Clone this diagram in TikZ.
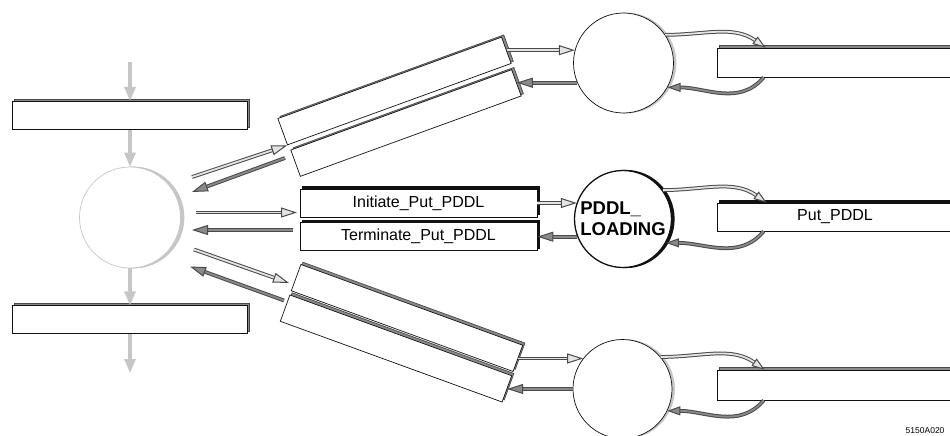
\documentclass[tikz,border=0pt]{standalone}
\usepackage{fontspec}
\setsansfont{Liberation Sans}
\usetikzlibrary{arrows.meta,positioning,shadows}
\usepackage{xcolor}
\definecolor{ink}{HTML}{111111}
\definecolor{edge}{HTML}{4A4A4A}
\definecolor{dim}{HTML}{8A8A8A}
\definecolor{mist}{HTML}{C6C6C6}
\definecolor{pale}{HTML}{E4E4E4}
\tikzset{
  box/.style={draw=ink,fill=white,line width=0.7pt,inner sep=0pt,minimum height=28pt},
  store/.style={box,copy shadow={shadow xshift=2.2pt,shadow yshift=2.2pt,fill=dim,draw=edge}},
  heavystore/.style={box,copy shadow={shadow xshift=2.5pt,shadow yshift=2.5pt,fill=ink,draw=ink}},
  proc/.style={circle,draw=ink,fill=white,line width=0.7pt,inner sep=0pt,minimum size=100pt,copy shadow={shadow xshift=2.5pt,shadow yshift=0pt,fill=mist,draw=mist}},
  ghostproc/.style={proc,draw=mist,copy shadow={shadow xshift=3.5pt,shadow yshift=0pt,fill=mist,draw=mist}},
  heavyproc/.style={circle,draw=ink,fill=white,line width=1.3pt,inner sep=0pt,minimum size=97pt,copy shadow={shadow xshift=2.5pt,shadow yshift=0pt,fill=ink,draw=ink}},
  feed/.style={draw=mist,line width=3.2pt,-{Triangle[length=14pt,width=11pt]}},
  outflow/.style={draw=edge,double=pale,double distance=1.8pt,line width=1pt,-{Triangle[length=16pt,width=10pt,fill=pale]}},
  inflow/.style={draw=edge,double=dim,double distance=1.8pt,line width=1pt,-{Triangle[length=16pt,width=10pt,fill=dim]}},
  loopout/.style={outflow,-{Triangle[length=13pt,width=9pt,fill=pale]}},
  loopin/.style={inflow,-{Triangle[length=13pt,width=9pt,fill=dim]}},
  every node/.style={font=\sffamily\fontsize{16}{19}\selectfont}
}
\begin{document}
\begin{tikzpicture}[x=1pt,y=1pt,node distance=37pt]
\useasboundingbox (0,0) rectangle (950,-436);

\node[ghostproc,minimum size=101pt] (ctrl) at (130,-217.5) {};
\node[store,minimum width=235pt,above=of ctrl] (src) {};
\node[store,minimum width=235pt,below=of ctrl] (dst) {};
\coordinate (feedin) at (130,-62);
\coordinate (feedout) at (130,-373);

\node[store,minimum width=238pt,rotate=20] (upA) at (394.5,-91) {};
\node[store,minimum width=235pt,rotate=20] (upB) at (406,-123) {};
\node[heavystore,minimum width=237pt] (init) at (418.5,-203) {Initiate\_Put\_PDDL};
\node[heavystore,minimum width=237pt,below=5pt of init] (term) {Terminate\_Put\_PDDL};
\node[store,minimum width=236pt,rotate=-20] (lowA) at (407,-318) {};
\node[store,minimum width=236pt,rotate=-20] (lowB) at (396,-348.5) {};

\node[proc] (ptop) at (623.5,-63) {};
\node[heavyproc,align=left,font=\sffamily\bfseries\fontsize{18.5}{21}\selectfont] (pddl) at (623,-219) {PDDL\_\\LOADING};
\node[proc,minimum size=99pt] (pbot) at (622.5,-389) {};

\node[store,minimum width=236pt,minimum height=29pt] (stop) at (835,-62.5) {};
\node[heavystore,minimum width=236pt] (put) at (835,-217) {Put\_PDDL};
\node[store,minimum width=236pt,minimum height=30pt] (sbot) at (835,-385) {};

\coordinate (o1) at (192,-177);
\coordinate (i1) at (285,-158);
\coordinate (r1) at (192,-192);
\coordinate (o2) at (196,-212.5);
\coordinate (t2) at (297,-212.5);
\coordinate (i2) at (293,-230);
\coordinate (r2) at (192,-230);
\coordinate (o3) at (194,-249.5);
\coordinate (t3) at (289,-283);
\coordinate (i3) at (284,-300.5);
\coordinate (r3) at (190,-266.5);

\draw[feed] (feedin) -- (src);
\draw[feed] (src) -- (ctrl);
\draw[feed] (ctrl) -- (dst);
\draw[feed] (dst) -- (feedout);

\draw[outflow] (o1) -- (upA.south west);
\draw[inflow] (i1) -- (r1);
\draw[outflow] (o2) -- (t2);
\draw[inflow] (i2) -- (r2);
\draw[outflow] (o3) -- (t3);
\draw[inflow] (i3) -- (r3);

\draw[outflow] (upA.east) -- (upA.east -| ptop.165);
\draw[inflow] (upB.east -| ptop.203) -- (upB.east);
\draw[outflow] (init.east) -- (init.east -| pddl.160);
\draw[inflow] (term.east -| pddl.201) -- (term.east);
\draw[outflow] (lowA.east) -- (lowA.east -| pbot.142);
\draw[inflow] (lowB.east -| pbot.west) -- (lowB.east);

\draw[loopout] (ptop.34) to[out=0,in=145] ([xshift=49pt]stop.north west);
\draw[loopin] ([xshift=47pt]stop.south west) to[out=-130,in=0] (ptop.-29);
\draw[loopout] (pddl.36) to[out=0,in=145] ([xshift=50pt]put.north west);
\draw[loopin] ([xshift=47pt]put.south west) to[out=-130,in=0] (pddl.-29);
\draw[loopout] (pbot.40) to[out=0,in=145] ([xshift=48pt]sbot.north west);
\draw[loopin] ([xshift=47pt]sbot.south west) to[out=-130,in=0] (pbot.-26);

\node[font=\sffamily\fontsize{8.5}{10}\selectfont,anchor=base east] (tag) at (948,-433) {5150A020};
\end{tikzpicture}
\end{document}
